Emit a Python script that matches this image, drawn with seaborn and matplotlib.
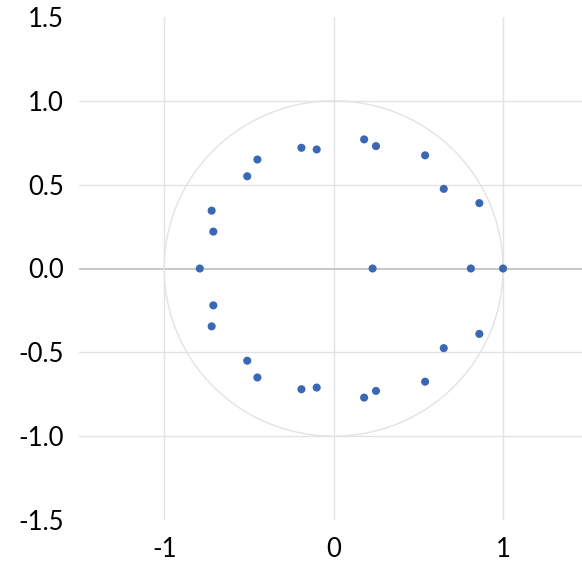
import pandas as pd
import matplotlib.pyplot as plt
import seaborn as sns

# Puntos (parte superior, el eje real y luego la parte inferior reflejada)
x_vals = [-0.79, 0.23, 0.81, 1.00,
          -0.71, -0.72, -0.51, -0.45, -0.19, -0.10, 0.18, 0.25, 0.54, 0.65, 0.86,
          -0.71, -0.72, -0.51, -0.45, -0.19, -0.10, 0.18, 0.25, 0.54, 0.65, 0.86]
y_vals = [0.0, 0.0, 0.0, 0.0,
          0.22, 0.345, 0.55, 0.65, 0.72, 0.71, 0.77, 0.73, 0.675, 0.475, 0.39,
          -0.22, -0.345, -0.55, -0.65, -0.72, -0.71, -0.77, -0.73, -0.675, -0.475, -0.39]
radio = 1.0
x_ticks = [-1, 0, 1]
y_ticks = [-1.5, -1.0, -0.5, 0.0, 0.5, 1.0, 1.5]

df = pd.DataFrame({'x': x_vals, 'y': y_vals})

sns.set_theme(style="white")
plt.rcParams['font.family'] = ['Lato', 'DejaVu Sans']

fig = plt.figure(figsize=(5.82, 5.69), dpi=100)
ax = fig.add_axes([79.5 / 582, 49 / 569, 502.5 / 582, 503 / 569])

# Rejilla ligera
for yv in [-1.0, -0.5, 0.5, 1.0]:
    ax.axhline(yv, color='#e3e3e3', lw=1.0, zorder=0)
for xv in x_ticks:
    ax.axvline(xv, color='#e3e3e3', lw=1.0, zorder=0)
ax.axhline(0, color='#c8c8c8', lw=1.4, zorder=0)

# Circulo unidad
ax.add_patch(plt.Circle((0, 0), radio, fill=False, color='#e3e3e3', lw=1.0, zorder=1))

sns.scatterplot(data=df, x='x', y='y', color='#3a68b4', s=34, edgecolor='none', ax=ax, zorder=3)

ax.set_xlim(-1.5, 1.466)
ax.set_ylim(-1.5, 1.5)
ax.set_xticks(x_ticks)
ax.set_xticklabels(['-1', '0', '1'])
ax.set_yticks(y_ticks)
ax.set_yticklabels(['-1.5', '-1.0', '-0.5', '0.0', '0.5', '1.0', '1.5'])
ax.tick_params(axis='both', labelsize=18.5, length=0, colors='black')
ax.tick_params(axis='y', pad=11)
ax.tick_params(axis='x', pad=12)
ax.set_xlabel('')
ax.set_ylabel('')
for s in ax.spines.values():
    s.set_visible(False)

fig.savefig('out.png', dpi=100)
